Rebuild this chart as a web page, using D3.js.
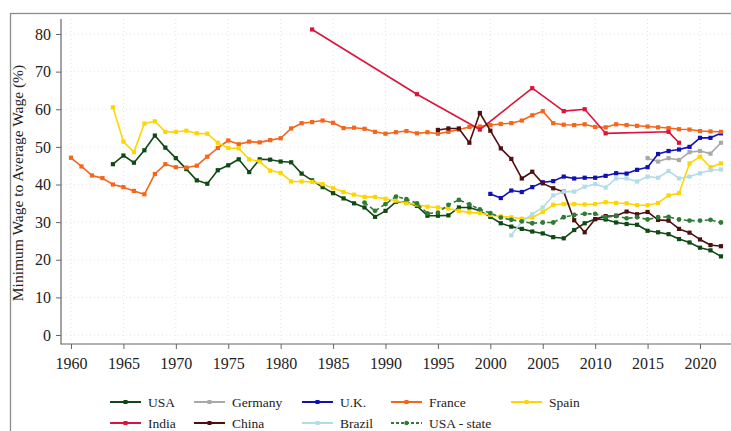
<!DOCTYPE html>
<html>
<head>
<meta charset="utf-8">
<script src="https://cdn.jsdelivr.net/npm/d3@7"></script>
<style>
  body { margin: 0; background: #fff; }
  svg { display: block; }
  svg text { font-family: "Liberation Serif", "Times New Roman", Times, serif; fill: #222; }
</style>
</head>
<body>
<script>
// ---- data ----
var xTicks = [1960, 1965, 1970, 1975, 1980, 1985, 1990, 1995, 2000, 2005, 2010, 2015, 2020];
var yTicks = [0, 10, 20, 30, 40, 50, 60, 70, 80];

var usaStart = 1964;
var usaValues = [45.4, 47.7, 45.8, 49.1, 53.0, 49.8, 47.0, 44.1, 41.1, 40.2, 43.8, 45.1, 46.7, 43.3, 46.7, 46.6,
  46.1, 45.9, 42.9, 41.1, 39.3, 37.7, 36.3, 35.0, 33.9, 31.4, 33.0, 35.4, 35.3, 34.3, 31.7, 31.7, 31.8, 33.9,
  33.9, 33.0, 31.4, 29.7, 28.8, 28.2, 27.5, 27.0, 26.0, 25.7, 27.9, 29.7, 30.8, 30.7, 29.9, 29.5, 29.3, 27.7,
  27.3, 26.8, 25.5, 24.6, 23.2, 22.5, 20.9];

var germanyStart = 2015;
var germanyValues = [47.0, 46.1, 47.0, 46.5, 48.6, 48.9, 48.2, 51.1];

var ukStart = 2000;
var ukValues = [37.5, 36.4, 38.4, 38.0, 39.3, 40.6, 40.9, 42.1, 41.6, 41.8, 41.8, 42.3, 43.0, 42.9, 43.9, 44.6,
  48.1, 48.9, 49.3, 50.0, 52.4, 52.4, 53.6];

var franceStart = 1960;
var franceValues = [47.1, 44.8, 42.4, 41.7, 40.0, 39.3, 38.3, 37.4, 42.8, 45.4, 44.6, 44.5, 45.0, 47.4, 49.7,
  51.7, 50.7, 51.4, 51.2, 51.8, 52.3, 54.9, 56.3, 56.6, 57.0, 56.4, 55.0, 55.1, 54.8, 54.0, 53.5, 53.9, 54.2,
  53.6, 53.9, 53.5, 54.0, 54.6, 55.3, 55.4, 55.8, 56.1, 56.3, 57.0, 58.4, 59.5, 56.3, 55.9, 55.8, 56.0, 55.3,
  55.2, 56.0, 55.8, 55.6, 55.4, 55.2, 55.0, 54.7, 54.6, 54.2, 54.1, 54.0];

var spainStart = 1964;
var spainValues = [60.5, 51.4, 48.6, 56.2, 56.8, 54.0, 54.0, 54.3, 53.6, 53.5, 51.1, 49.7, 49.6, 46.7, 46.1,
  43.7, 43.1, 40.8, 40.8, 40.7, 40.1, 39.0, 38.0, 37.3, 36.7, 36.7, 36.2, 35.7, 35.0, 34.7, 34.1, 33.9, 33.6,
  33.0, 32.6, 32.4, 31.9, 31.5, 31.3, 30.9, 31.2, 32.7, 34.6, 34.8, 34.8, 34.7, 34.8, 35.3, 35.1, 35.0, 34.5,
  34.5, 35.1, 37.1, 37.7, 45.6, 47.4, 44.6, 45.6];

var indiaYears = [1983, 1993, 1999, 2004, 2007, 2009, 2011, 2017, 2018];
var indiaValues = [81.2, 64.0, 54.6, 65.6, 59.5, 60.0, 53.6, 54.0, 51.1];

var chinaStart = 1995;
var chinaValues = [54.5, 54.9, 54.9, 51.1, 59.0, 54.3, 49.6, 46.8, 41.6, 43.4, 40.3, 39.0, 38.1, 30.5, 27.3,
  30.8, 31.6, 31.7, 32.8, 32.1, 32.7, 30.6, 30.4, 28.2, 27.2, 25.4, 23.9, 23.6];

var brazilStart = 2002;
var brazilValues = [26.5, 30.1, 32.1, 33.9, 37.1, 38.1, 38.1, 39.4, 40.1, 39.2, 41.6, 41.6, 40.8, 42.1, 41.8,
  43.6, 41.6, 42.1, 43.0, 43.8, 44.0];

var usaStateStart = 1988;
var usaStateValues = [35.2, 33.0, 34.8, 36.8, 36.1, 35.0, 32.3, 32.5, 34.6, 35.9, 34.7, 33.4, 32.4, 31.2, 30.6,
  30.2, 29.7, 29.9, 29.9, 31.3, 31.9, 32.2, 32.2, 31.3, 31.6, 31.0, 31.3, 30.7, 31.3, 31.4, 30.7, 30.4, 30.4,
  30.6, 29.9];

function fromStart(start, values) {
  return values.map(function (v, i) { return { year: start + i, value: v }; });
}

var series = [
  { name: "USA", color: "#0f4a14", points: fromStart(usaStart, usaValues), marker: "square" },
  { name: "Germany", color: "#a9a9a9", points: fromStart(germanyStart, germanyValues), marker: "square" },
  { name: "U.K.", color: "#1010b8", points: fromStart(ukStart, ukValues), marker: "square" },
  { name: "France", color: "#f5651a", points: fromStart(franceStart, franceValues), marker: "square" },
  { name: "Spain", color: "#ffd500", points: fromStart(spainStart, spainValues), marker: "square" },
  { name: "India", color: "#dc143c", points: indiaYears.map(function (y, i) { return { year: y, value: indiaValues[i] }; }), marker: "square" },
  { name: "China", color: "#4f0f0f", points: fromStart(chinaStart, chinaValues), marker: "square" },
  { name: "Brazil", color: "#b3dcea", points: fromStart(brazilStart, brazilValues), marker: "square" },
  { name: "USA - state", color: "#2f7a35", points: fromStart(usaStateStart, usaStateValues), marker: "circle", dash: "4,3" }
];

var serif = "'Liberation Serif', 'Times New Roman', Times, serif";

// ---- chart ----
var W = 731, H = 431;
var svg = d3.select("body").append("svg").attr("width", W).attr("height", H);

var x = d3.scaleLinear().domain([1960, 2020]).range([71, 700]);
var y = d3.scaleLinear().domain([0, 80]).range([335, 34]);

// outer frame
svg.append("rect")
  .attr("x", 10.5).attr("y", 13.5).attr("width", 760).attr("height", 460)
  .attr("fill", "none").attr("stroke", "#8c8c8c").attr("stroke-width", 1.3);

// grid
var grid = svg.append("g");
grid.selectAll(".gy").data(yTicks).enter().append("line")
  .attr("x1", 62).attr("x2", 731)
  .attr("y1", function (d) { return y(d); }).attr("y2", function (d) { return y(d); })
  .attr("stroke", "#e4e4e4").attr("stroke-width", 1).attr("stroke-dasharray", "1,3");
grid.selectAll(".gx").data(xTicks).enter().append("line")
  .attr("y1", 19).attr("y2", 343)
  .attr("x1", function (d) { return x(d); }).attr("x2", function (d) { return x(d); })
  .attr("stroke", "#e4e4e4").attr("stroke-width", 1).attr("stroke-dasharray", "1,3");

// axes
var yAxis = svg.append("g").attr("transform", "translate(61,0)")
  .call(d3.axisLeft(y).tickValues(yTicks).tickSize(5).tickSizeOuter(0).tickPadding(5));
var xAxis = svg.append("g").attr("transform", "translate(0,344)")
  .call(d3.axisBottom(x).tickValues(xTicks).tickFormat(d3.format("d")).tickSize(5).tickSizeOuter(0).tickPadding(9));
[yAxis, xAxis].forEach(function (g) {
  g.attr("font-family", serif).attr("font-size", 16);
  g.select(".domain").remove();
  g.selectAll(".tick line").attr("stroke", "#666");
  g.selectAll(".tick text").style("font-family", serif).style("font-size", "16px").attr("fill", "#222");
});
svg.append("line").attr("x1", 61).attr("x2", 61).attr("y1", 19).attr("y2", 344.5)
  .attr("stroke", "#666").attr("stroke-width", 1.2);
svg.append("line").attr("x1", 61).attr("x2", 731).attr("y1", 344).attr("y2", 344)
  .attr("stroke", "#666").attr("stroke-width", 1.2);

svg.append("text")
  .attr("transform", "translate(17,183) rotate(-90)")
  .attr("text-anchor", "middle").attr("dominant-baseline", "central")
  .style("font-family", serif).style("font-size", "15.5px")
  .text("Minimum Wage to Average Wage (%)");

// lines
var line = d3.line().x(function (d) { return x(d.year); }).y(function (d) { return y(d.value); });

function drawMarkers(g, s, pts) {
  if (s.marker === "circle") {
    g.selectAll("circle").data(pts).enter().append("circle")
      .attr("cx", function (d) { return x(d.year); })
      .attr("cy", function (d) { return y(d.value); })
      .attr("r", 2.4).attr("fill", s.color);
  } else {
    g.selectAll("rect").data(pts).enter().append("rect")
      .attr("x", function (d) { return x(d.year) - 2.1; })
      .attr("y", function (d) { return y(d.value) - 2.1; })
      .attr("width", 4.2).attr("height", 4.2).attr("fill", s.color);
  }
}

series.forEach(function (s) {
  var g = svg.append("g");
  g.append("path").datum(s.points).attr("d", line)
    .attr("fill", "none").attr("stroke", s.color).attr("stroke-width", 1.6)
    .attr("stroke-dasharray", s.dash || null).attr("stroke-linejoin", "round");
  drawMarkers(g, s, s.points);
});

// legend
var colX = [110, 194, 302, 391, 511];
var rowY = [402, 423];
series.forEach(function (s, i) {
  var lx = colX[i % 5], ly = rowY[Math.floor(i / 5)];
  var g = svg.append("g").attr("transform", "translate(" + lx + "," + ly + ")");
  g.append("line").attr("x1", 0).attr("x2", 31).attr("y1", 0).attr("y2", 0)
    .attr("stroke", s.color).attr("stroke-width", 2).attr("stroke-dasharray", s.dash ? "3,2" : null);
  if (s.marker === "circle") {
    g.append("circle").attr("cx", 15.5).attr("cy", 0).attr("r", 2.2).attr("fill", s.color);
  } else {
    g.append("rect").attr("x", 13.5).attr("y", -2).attr("width", 4).attr("height", 4).attr("fill", s.color);
  }
  g.append("text").attr("x", 38).attr("y", 0).attr("dy", "0.35em")
    .style("font-family", serif).style("font-size", "13.5px").text(s.name);
});
</script>
</body>
</html>
